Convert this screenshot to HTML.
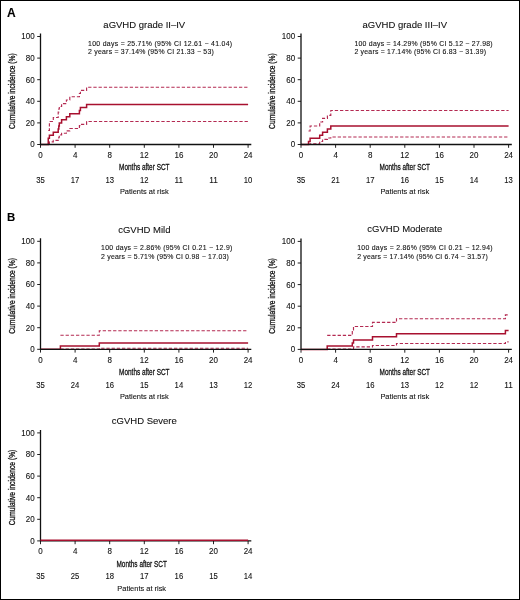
<!DOCTYPE html>
<html><head><meta charset="utf-8"><style>
html,body{margin:0;padding:0;background:#fff;}
body{width:520px;height:600px;overflow:hidden;position:relative;}
#fr{position:absolute;left:0;top:0;width:520px;height:600px;box-sizing:border-box;border:1px solid #000;}
svg{display:block;position:absolute;left:0;top:0;filter:blur(0.25px);}
text{font-family:"Liberation Sans",sans-serif;fill:#111;stroke:#111;stroke-width:0.1px;}
.hv{stroke-width:0.3px;}
.ax{fill:none;stroke:#111;stroke-width:1.3;}
.tk{stroke:#222;stroke-width:1;}
.sol{fill:none;stroke:#a8102f;stroke-width:1.5;}
.dsh{fill:none;stroke:#b42a52;stroke-width:1.15;stroke-dasharray:3.3 1.9;}
</style></head><body>
<svg width="520" height="600" viewBox="0 0 520 600">
<text x="7.1" y="16.7" font-size="12" font-weight="bold" fill="#000" style="fill:#000">A</text>
<text x="6.9" y="221.3" font-size="11.4" font-weight="bold" style="fill:#000">B</text>
<text transform="translate(14.9 91.1) rotate(-90)" class="hv" text-anchor="middle" font-size="9" textLength="75.6" lengthAdjust="spacingAndGlyphs">Cumulative incidence (%)</text>
<text x="144.3" y="28" text-anchor="middle" font-size="9.5">aGVHD grade II–IV</text>
<text x="88.1" y="45.7" font-size="6.9" textLength="144" lengthAdjust="spacing">100 days = 25.71% (95% CI 12.61 − 41.04)</text>
<text x="88.1" y="54.4" font-size="6.9" textLength="125.7" lengthAdjust="spacing">2 years = 37.14% (95% CI 21.33 − 53)</text>
<line x1="37.2" y1="144.5" x2="40.5" y2="144.5" class="tk"/>
<text x="34.6" y="147.45" text-anchor="end" font-size="8.6" textLength="4.45" lengthAdjust="spacingAndGlyphs">0</text>
<line x1="37.2" y1="122.9" x2="40.5" y2="122.9" class="tk"/>
<text x="34.6" y="125.85" text-anchor="end" font-size="8.6" textLength="8.9" lengthAdjust="spacingAndGlyphs">20</text>
<line x1="37.2" y1="101.3" x2="40.5" y2="101.3" class="tk"/>
<text x="34.6" y="104.25" text-anchor="end" font-size="8.6" textLength="8.9" lengthAdjust="spacingAndGlyphs">40</text>
<line x1="37.2" y1="79.7" x2="40.5" y2="79.7" class="tk"/>
<text x="34.6" y="82.65" text-anchor="end" font-size="8.6" textLength="8.9" lengthAdjust="spacingAndGlyphs">60</text>
<line x1="37.2" y1="58.1" x2="40.5" y2="58.1" class="tk"/>
<text x="34.6" y="61.05" text-anchor="end" font-size="8.6" textLength="8.9" lengthAdjust="spacingAndGlyphs">80</text>
<line x1="37.2" y1="36.5" x2="40.5" y2="36.5" class="tk"/>
<text x="34.6" y="39.45" text-anchor="end" font-size="8.6" textLength="13.34" lengthAdjust="spacingAndGlyphs">100</text>
<line x1="40.5" y1="144.5" x2="40.5" y2="147.8" class="tk"/>
<text x="40.5" y="157.7" text-anchor="middle" font-size="8.6" textLength="4.45" lengthAdjust="spacingAndGlyphs">0</text>
<text x="40.5" y="183" text-anchor="middle" font-size="8.4" textLength="8.56" lengthAdjust="spacingAndGlyphs">35</text>
<line x1="75.1" y1="144.5" x2="75.1" y2="147.8" class="tk"/>
<text x="75.1" y="157.7" text-anchor="middle" font-size="8.6" textLength="4.45" lengthAdjust="spacingAndGlyphs">4</text>
<text x="75.1" y="183" text-anchor="middle" font-size="8.4" textLength="8.56" lengthAdjust="spacingAndGlyphs">17</text>
<line x1="109.7" y1="144.5" x2="109.7" y2="147.8" class="tk"/>
<text x="109.7" y="157.7" text-anchor="middle" font-size="8.6" textLength="4.45" lengthAdjust="spacingAndGlyphs">8</text>
<text x="109.7" y="183" text-anchor="middle" font-size="8.4" textLength="8.56" lengthAdjust="spacingAndGlyphs">13</text>
<line x1="144.3" y1="144.5" x2="144.3" y2="147.8" class="tk"/>
<text x="144.3" y="157.7" text-anchor="middle" font-size="8.6" textLength="8.9" lengthAdjust="spacingAndGlyphs">12</text>
<text x="144.3" y="183" text-anchor="middle" font-size="8.4" textLength="8.56" lengthAdjust="spacingAndGlyphs">12</text>
<line x1="178.9" y1="144.5" x2="178.9" y2="147.8" class="tk"/>
<text x="178.9" y="157.7" text-anchor="middle" font-size="8.6" textLength="8.9" lengthAdjust="spacingAndGlyphs">16</text>
<text x="178.9" y="183" text-anchor="middle" font-size="8.4" textLength="8.56" lengthAdjust="spacingAndGlyphs">11</text>
<line x1="213.5" y1="144.5" x2="213.5" y2="147.8" class="tk"/>
<text x="213.5" y="157.7" text-anchor="middle" font-size="8.6" textLength="8.9" lengthAdjust="spacingAndGlyphs">20</text>
<text x="213.5" y="183" text-anchor="middle" font-size="8.4" textLength="8.56" lengthAdjust="spacingAndGlyphs">11</text>
<line x1="248.1" y1="144.5" x2="248.1" y2="147.8" class="tk"/>
<text x="248.1" y="157.7" text-anchor="middle" font-size="8.6" textLength="8.9" lengthAdjust="spacingAndGlyphs">24</text>
<text x="248.1" y="183" text-anchor="middle" font-size="8.4" textLength="8.56" lengthAdjust="spacingAndGlyphs">10</text>
<text x="144.3" y="170.3" class="hv" text-anchor="middle" font-size="9.7" textLength="50.4" lengthAdjust="spacingAndGlyphs">Months after SCT</text>
<text x="144.3" y="194.3" text-anchor="middle" font-size="7.9" textLength="48.8" lengthAdjust="spacingAndGlyphs">Patients at risk</text>
<path d="M48.25 130.5H48.25V130.5H49.4V121.5H53.3V117.5H58.2V112H58.8V109H59.3V106.5H61.6V103.6H66.4V100H69.8V96.7H79.4V93.5H80.4V90.4H86.6V87.2H248.1" class="dsh"/>
<path d="M48.25 143.6H48.25V143.6H49.4V141.8H53.3V140.4H58.2V138.6H58.8V137.2H59.3V134.8H61.6V133.2H66.4V130.8H69.8V128.5H79.4V125.6H80.4V124.3H86.6V121.5H248.1" class="dsh"/>
<path d="M40.5 144.5H48.25V138.33H49.4V135.24H53.3V132.16H58.2V129.07H58.8V125.99H59.3V122.9H61.6V119.81H66.4V116.73H69.8V113.64H79.4V110.56H80.4V107.47H86.6V104.39H248.1" class="sol"/>
<path d="M40.5 33.5 V144.5 H251.3" class="ax"/>
<text transform="translate(275.4 91.1) rotate(-90)" class="hv" text-anchor="middle" font-size="9" textLength="75.6" lengthAdjust="spacingAndGlyphs">Cumulative incidence (%)</text>
<text x="404.8" y="28" text-anchor="middle" font-size="9.5">aGVHD grade III–IV</text>
<text x="354.4" y="45.7" font-size="6.9" textLength="138.2" lengthAdjust="spacing">100 days = 14.29% (95% CI 5.12 − 27.98)</text>
<text x="354.4" y="54.4" font-size="6.9" textLength="131.6" lengthAdjust="spacing">2 years = 17.14% (95% CI 6.83 − 31.39)</text>
<line x1="297.7" y1="144.5" x2="301" y2="144.5" class="tk"/>
<text x="295.1" y="147.45" text-anchor="end" font-size="8.6" textLength="4.45" lengthAdjust="spacingAndGlyphs">0</text>
<line x1="297.7" y1="122.9" x2="301" y2="122.9" class="tk"/>
<text x="295.1" y="125.85" text-anchor="end" font-size="8.6" textLength="8.9" lengthAdjust="spacingAndGlyphs">20</text>
<line x1="297.7" y1="101.3" x2="301" y2="101.3" class="tk"/>
<text x="295.1" y="104.25" text-anchor="end" font-size="8.6" textLength="8.9" lengthAdjust="spacingAndGlyphs">40</text>
<line x1="297.7" y1="79.7" x2="301" y2="79.7" class="tk"/>
<text x="295.1" y="82.65" text-anchor="end" font-size="8.6" textLength="8.9" lengthAdjust="spacingAndGlyphs">60</text>
<line x1="297.7" y1="58.1" x2="301" y2="58.1" class="tk"/>
<text x="295.1" y="61.05" text-anchor="end" font-size="8.6" textLength="8.9" lengthAdjust="spacingAndGlyphs">80</text>
<line x1="297.7" y1="36.5" x2="301" y2="36.5" class="tk"/>
<text x="295.1" y="39.45" text-anchor="end" font-size="8.6" textLength="13.34" lengthAdjust="spacingAndGlyphs">100</text>
<line x1="301" y1="144.5" x2="301" y2="147.8" class="tk"/>
<text x="301" y="157.7" text-anchor="middle" font-size="8.6" textLength="4.45" lengthAdjust="spacingAndGlyphs">0</text>
<text x="301" y="183" text-anchor="middle" font-size="8.4" textLength="8.56" lengthAdjust="spacingAndGlyphs">35</text>
<line x1="335.6" y1="144.5" x2="335.6" y2="147.8" class="tk"/>
<text x="335.6" y="157.7" text-anchor="middle" font-size="8.6" textLength="4.45" lengthAdjust="spacingAndGlyphs">4</text>
<text x="335.6" y="183" text-anchor="middle" font-size="8.4" textLength="8.56" lengthAdjust="spacingAndGlyphs">21</text>
<line x1="370.2" y1="144.5" x2="370.2" y2="147.8" class="tk"/>
<text x="370.2" y="157.7" text-anchor="middle" font-size="8.6" textLength="4.45" lengthAdjust="spacingAndGlyphs">8</text>
<text x="370.2" y="183" text-anchor="middle" font-size="8.4" textLength="8.56" lengthAdjust="spacingAndGlyphs">17</text>
<line x1="404.8" y1="144.5" x2="404.8" y2="147.8" class="tk"/>
<text x="404.8" y="157.7" text-anchor="middle" font-size="8.6" textLength="8.9" lengthAdjust="spacingAndGlyphs">12</text>
<text x="404.8" y="183" text-anchor="middle" font-size="8.4" textLength="8.56" lengthAdjust="spacingAndGlyphs">16</text>
<line x1="439.4" y1="144.5" x2="439.4" y2="147.8" class="tk"/>
<text x="439.4" y="157.7" text-anchor="middle" font-size="8.6" textLength="8.9" lengthAdjust="spacingAndGlyphs">16</text>
<text x="439.4" y="183" text-anchor="middle" font-size="8.4" textLength="8.56" lengthAdjust="spacingAndGlyphs">15</text>
<line x1="474" y1="144.5" x2="474" y2="147.8" class="tk"/>
<text x="474" y="157.7" text-anchor="middle" font-size="8.6" textLength="8.9" lengthAdjust="spacingAndGlyphs">20</text>
<text x="474" y="183" text-anchor="middle" font-size="8.4" textLength="8.56" lengthAdjust="spacingAndGlyphs">14</text>
<line x1="508.6" y1="144.5" x2="508.6" y2="147.8" class="tk"/>
<text x="508.6" y="157.7" text-anchor="middle" font-size="8.6" textLength="8.9" lengthAdjust="spacingAndGlyphs">24</text>
<text x="508.6" y="183" text-anchor="middle" font-size="8.4" textLength="8.56" lengthAdjust="spacingAndGlyphs">13</text>
<text x="404.8" y="170.3" class="hv" text-anchor="middle" font-size="9.7" textLength="50.4" lengthAdjust="spacingAndGlyphs">Months after SCT</text>
<text x="404.8" y="194.3" text-anchor="middle" font-size="7.9" textLength="48.8" lengthAdjust="spacingAndGlyphs">Patients at risk</text>
<path d="M308.5 131H308.5V131H310.1V126H319.7V122H322.6V118.3H327.4V115.4H330.8V110.5H508.6" class="dsh"/>
<path d="M308.5 144.2H308.5V144.2H310.1V143.7H319.7V141.5H322.6V139.3H327.4V138H330.8V137H508.6" class="dsh"/>
<path d="M301 144.5H308.5V141.41H310.1V138.33H319.7V135.24H322.6V132.16H327.4V129.07H330.8V125.99H508.6" class="sol"/>
<path d="M301 33.5 V144.5 H511.8" class="ax"/>
<text transform="translate(14.9 295.9) rotate(-90)" class="hv" text-anchor="middle" font-size="9" textLength="75.6" lengthAdjust="spacingAndGlyphs">Cumulative incidence (%)</text>
<text x="144.3" y="232.5" text-anchor="middle" font-size="9.5">cGVHD Mild</text>
<text x="101.1" y="250.3" font-size="6.9" textLength="131.2" lengthAdjust="spacing">100 days = 2.86% (95% CI 0.21 − 12.9)</text>
<text x="101.1" y="258.8" font-size="6.9" textLength="127.7" lengthAdjust="spacing">2 years = 5.71% (95% CI 0.98 − 17.03)</text>
<line x1="37.2" y1="349.3" x2="40.5" y2="349.3" class="tk"/>
<text x="34.6" y="352.25" text-anchor="end" font-size="8.6" textLength="4.45" lengthAdjust="spacingAndGlyphs">0</text>
<line x1="37.2" y1="327.7" x2="40.5" y2="327.7" class="tk"/>
<text x="34.6" y="330.65" text-anchor="end" font-size="8.6" textLength="8.9" lengthAdjust="spacingAndGlyphs">20</text>
<line x1="37.2" y1="306.1" x2="40.5" y2="306.1" class="tk"/>
<text x="34.6" y="309.05" text-anchor="end" font-size="8.6" textLength="8.9" lengthAdjust="spacingAndGlyphs">40</text>
<line x1="37.2" y1="284.5" x2="40.5" y2="284.5" class="tk"/>
<text x="34.6" y="287.45" text-anchor="end" font-size="8.6" textLength="8.9" lengthAdjust="spacingAndGlyphs">60</text>
<line x1="37.2" y1="262.9" x2="40.5" y2="262.9" class="tk"/>
<text x="34.6" y="265.85" text-anchor="end" font-size="8.6" textLength="8.9" lengthAdjust="spacingAndGlyphs">80</text>
<line x1="37.2" y1="241.3" x2="40.5" y2="241.3" class="tk"/>
<text x="34.6" y="244.25" text-anchor="end" font-size="8.6" textLength="13.34" lengthAdjust="spacingAndGlyphs">100</text>
<line x1="40.5" y1="349.3" x2="40.5" y2="352.6" class="tk"/>
<text x="40.5" y="362.5" text-anchor="middle" font-size="8.6" textLength="4.45" lengthAdjust="spacingAndGlyphs">0</text>
<text x="40.5" y="387.8" text-anchor="middle" font-size="8.4" textLength="8.56" lengthAdjust="spacingAndGlyphs">35</text>
<line x1="75.1" y1="349.3" x2="75.1" y2="352.6" class="tk"/>
<text x="75.1" y="362.5" text-anchor="middle" font-size="8.6" textLength="4.45" lengthAdjust="spacingAndGlyphs">4</text>
<text x="75.1" y="387.8" text-anchor="middle" font-size="8.4" textLength="8.56" lengthAdjust="spacingAndGlyphs">24</text>
<line x1="109.7" y1="349.3" x2="109.7" y2="352.6" class="tk"/>
<text x="109.7" y="362.5" text-anchor="middle" font-size="8.6" textLength="4.45" lengthAdjust="spacingAndGlyphs">8</text>
<text x="109.7" y="387.8" text-anchor="middle" font-size="8.4" textLength="8.56" lengthAdjust="spacingAndGlyphs">16</text>
<line x1="144.3" y1="349.3" x2="144.3" y2="352.6" class="tk"/>
<text x="144.3" y="362.5" text-anchor="middle" font-size="8.6" textLength="8.9" lengthAdjust="spacingAndGlyphs">12</text>
<text x="144.3" y="387.8" text-anchor="middle" font-size="8.4" textLength="8.56" lengthAdjust="spacingAndGlyphs">15</text>
<line x1="178.9" y1="349.3" x2="178.9" y2="352.6" class="tk"/>
<text x="178.9" y="362.5" text-anchor="middle" font-size="8.6" textLength="8.9" lengthAdjust="spacingAndGlyphs">16</text>
<text x="178.9" y="387.8" text-anchor="middle" font-size="8.4" textLength="8.56" lengthAdjust="spacingAndGlyphs">14</text>
<line x1="213.5" y1="349.3" x2="213.5" y2="352.6" class="tk"/>
<text x="213.5" y="362.5" text-anchor="middle" font-size="8.6" textLength="8.9" lengthAdjust="spacingAndGlyphs">20</text>
<text x="213.5" y="387.8" text-anchor="middle" font-size="8.4" textLength="8.56" lengthAdjust="spacingAndGlyphs">13</text>
<line x1="248.1" y1="349.3" x2="248.1" y2="352.6" class="tk"/>
<text x="248.1" y="362.5" text-anchor="middle" font-size="8.6" textLength="8.9" lengthAdjust="spacingAndGlyphs">24</text>
<text x="248.1" y="387.8" text-anchor="middle" font-size="8.4" textLength="8.56" lengthAdjust="spacingAndGlyphs">12</text>
<text x="144.3" y="375.1" class="hv" text-anchor="middle" font-size="9.7" textLength="50.4" lengthAdjust="spacingAndGlyphs">Months after SCT</text>
<text x="144.3" y="399.1" text-anchor="middle" font-size="7.9" textLength="48.8" lengthAdjust="spacingAndGlyphs">Patients at risk</text>
<path d="M60.4 335.2H60.4V335.2H99.3V330.7H248.1" class="dsh"/>
<path d="M60.4 349H60.4V349H99.3V348.2H248.1" class="dsh"/>
<path d="M40.5 349.3H60.4V346.1H99.3V343H248.1" class="sol"/>
<path d="M40.5 238.3 V349.3 H251.3" class="ax"/>
<text transform="translate(275.4 296) rotate(-90)" class="hv" text-anchor="middle" font-size="9" textLength="75.6" lengthAdjust="spacingAndGlyphs">Cumulative incidence (%)</text>
<text x="404.8" y="232.4" text-anchor="middle" font-size="9.5">cGVHD Moderate</text>
<text x="357.2" y="250.3" font-size="6.9" textLength="135.4" lengthAdjust="spacing">100 days = 2.86% (95% CI 0.21 − 12.94)</text>
<text x="357.2" y="258.8" font-size="6.9" textLength="130.5" lengthAdjust="spacing">2 years = 17.14% (95% CI 6.74 − 31.57)</text>
<line x1="297.7" y1="349.4" x2="301" y2="349.4" class="tk"/>
<text x="295.1" y="352.35" text-anchor="end" font-size="8.6" textLength="4.45" lengthAdjust="spacingAndGlyphs">0</text>
<line x1="297.7" y1="327.8" x2="301" y2="327.8" class="tk"/>
<text x="295.1" y="330.75" text-anchor="end" font-size="8.6" textLength="8.9" lengthAdjust="spacingAndGlyphs">20</text>
<line x1="297.7" y1="306.2" x2="301" y2="306.2" class="tk"/>
<text x="295.1" y="309.15" text-anchor="end" font-size="8.6" textLength="8.9" lengthAdjust="spacingAndGlyphs">40</text>
<line x1="297.7" y1="284.6" x2="301" y2="284.6" class="tk"/>
<text x="295.1" y="287.55" text-anchor="end" font-size="8.6" textLength="8.9" lengthAdjust="spacingAndGlyphs">60</text>
<line x1="297.7" y1="263" x2="301" y2="263" class="tk"/>
<text x="295.1" y="265.95" text-anchor="end" font-size="8.6" textLength="8.9" lengthAdjust="spacingAndGlyphs">80</text>
<line x1="297.7" y1="241.4" x2="301" y2="241.4" class="tk"/>
<text x="295.1" y="244.35" text-anchor="end" font-size="8.6" textLength="13.34" lengthAdjust="spacingAndGlyphs">100</text>
<line x1="301" y1="349.4" x2="301" y2="352.7" class="tk"/>
<text x="301" y="362.6" text-anchor="middle" font-size="8.6" textLength="4.45" lengthAdjust="spacingAndGlyphs">0</text>
<text x="301" y="387.9" text-anchor="middle" font-size="8.4" textLength="8.56" lengthAdjust="spacingAndGlyphs">35</text>
<line x1="335.6" y1="349.4" x2="335.6" y2="352.7" class="tk"/>
<text x="335.6" y="362.6" text-anchor="middle" font-size="8.6" textLength="4.45" lengthAdjust="spacingAndGlyphs">4</text>
<text x="335.6" y="387.9" text-anchor="middle" font-size="8.4" textLength="8.56" lengthAdjust="spacingAndGlyphs">24</text>
<line x1="370.2" y1="349.4" x2="370.2" y2="352.7" class="tk"/>
<text x="370.2" y="362.6" text-anchor="middle" font-size="8.6" textLength="4.45" lengthAdjust="spacingAndGlyphs">8</text>
<text x="370.2" y="387.9" text-anchor="middle" font-size="8.4" textLength="8.56" lengthAdjust="spacingAndGlyphs">16</text>
<line x1="404.8" y1="349.4" x2="404.8" y2="352.7" class="tk"/>
<text x="404.8" y="362.6" text-anchor="middle" font-size="8.6" textLength="8.9" lengthAdjust="spacingAndGlyphs">12</text>
<text x="404.8" y="387.9" text-anchor="middle" font-size="8.4" textLength="8.56" lengthAdjust="spacingAndGlyphs">13</text>
<line x1="439.4" y1="349.4" x2="439.4" y2="352.7" class="tk"/>
<text x="439.4" y="362.6" text-anchor="middle" font-size="8.6" textLength="8.9" lengthAdjust="spacingAndGlyphs">16</text>
<text x="439.4" y="387.9" text-anchor="middle" font-size="8.4" textLength="8.56" lengthAdjust="spacingAndGlyphs">12</text>
<line x1="474" y1="349.4" x2="474" y2="352.7" class="tk"/>
<text x="474" y="362.6" text-anchor="middle" font-size="8.6" textLength="8.9" lengthAdjust="spacingAndGlyphs">20</text>
<text x="474" y="387.9" text-anchor="middle" font-size="8.4" textLength="8.56" lengthAdjust="spacingAndGlyphs">12</text>
<line x1="508.6" y1="349.4" x2="508.6" y2="352.7" class="tk"/>
<text x="508.6" y="362.6" text-anchor="middle" font-size="8.6" textLength="8.9" lengthAdjust="spacingAndGlyphs">24</text>
<text x="508.6" y="387.9" text-anchor="middle" font-size="8.4" textLength="8.56" lengthAdjust="spacingAndGlyphs">11</text>
<text x="404.8" y="375.2" class="hv" text-anchor="middle" font-size="9.7" textLength="50.4" lengthAdjust="spacingAndGlyphs">Months after SCT</text>
<text x="404.8" y="399.2" text-anchor="middle" font-size="7.9" textLength="48.8" lengthAdjust="spacingAndGlyphs">Patients at risk</text>
<path d="M327.2 335.3H327.2V335.3H352.3V330H353.5V326.5H372.5V322.4H396.5V318.7H505.4V314.9H508.6" class="dsh"/>
<path d="M327.2 349H327.2V349H353.5V346.9H372.5V345.5H396.5V343.5H505.4V341.9H508.6" class="dsh"/>
<path d="M301 349.4H327.2V346.1H352.3V343H353.5V339.9H372.5V336.8H396.5V333.7H505.4V330.6H508.6" class="sol"/>
<path d="M301 238.4 V349.4 H511.8" class="ax"/>
<text transform="translate(14.9 487.5) rotate(-90)" class="hv" text-anchor="middle" font-size="9" textLength="75.6" lengthAdjust="spacingAndGlyphs">Cumulative incidence (%)</text>
<text x="144.3" y="424.4" text-anchor="middle" font-size="9.5">cGVHD Severe</text>
<line x1="37.2" y1="540.9" x2="40.5" y2="540.9" class="tk"/>
<text x="34.6" y="543.85" text-anchor="end" font-size="8.6" textLength="4.45" lengthAdjust="spacingAndGlyphs">0</text>
<line x1="37.2" y1="519.3" x2="40.5" y2="519.3" class="tk"/>
<text x="34.6" y="522.25" text-anchor="end" font-size="8.6" textLength="8.9" lengthAdjust="spacingAndGlyphs">20</text>
<line x1="37.2" y1="497.7" x2="40.5" y2="497.7" class="tk"/>
<text x="34.6" y="500.65" text-anchor="end" font-size="8.6" textLength="8.9" lengthAdjust="spacingAndGlyphs">40</text>
<line x1="37.2" y1="476.1" x2="40.5" y2="476.1" class="tk"/>
<text x="34.6" y="479.05" text-anchor="end" font-size="8.6" textLength="8.9" lengthAdjust="spacingAndGlyphs">60</text>
<line x1="37.2" y1="454.5" x2="40.5" y2="454.5" class="tk"/>
<text x="34.6" y="457.45" text-anchor="end" font-size="8.6" textLength="8.9" lengthAdjust="spacingAndGlyphs">80</text>
<line x1="37.2" y1="432.9" x2="40.5" y2="432.9" class="tk"/>
<text x="34.6" y="435.85" text-anchor="end" font-size="8.6" textLength="13.34" lengthAdjust="spacingAndGlyphs">100</text>
<line x1="40.5" y1="540.9" x2="40.5" y2="544.2" class="tk"/>
<text x="40.5" y="554.1" text-anchor="middle" font-size="8.6" textLength="4.45" lengthAdjust="spacingAndGlyphs">0</text>
<text x="40.5" y="579.4" text-anchor="middle" font-size="8.4" textLength="8.56" lengthAdjust="spacingAndGlyphs">35</text>
<line x1="75.1" y1="540.9" x2="75.1" y2="544.2" class="tk"/>
<text x="75.1" y="554.1" text-anchor="middle" font-size="8.6" textLength="4.45" lengthAdjust="spacingAndGlyphs">4</text>
<text x="75.1" y="579.4" text-anchor="middle" font-size="8.4" textLength="8.56" lengthAdjust="spacingAndGlyphs">25</text>
<line x1="109.7" y1="540.9" x2="109.7" y2="544.2" class="tk"/>
<text x="109.7" y="554.1" text-anchor="middle" font-size="8.6" textLength="4.45" lengthAdjust="spacingAndGlyphs">8</text>
<text x="109.7" y="579.4" text-anchor="middle" font-size="8.4" textLength="8.56" lengthAdjust="spacingAndGlyphs">18</text>
<line x1="144.3" y1="540.9" x2="144.3" y2="544.2" class="tk"/>
<text x="144.3" y="554.1" text-anchor="middle" font-size="8.6" textLength="8.9" lengthAdjust="spacingAndGlyphs">12</text>
<text x="144.3" y="579.4" text-anchor="middle" font-size="8.4" textLength="8.56" lengthAdjust="spacingAndGlyphs">17</text>
<line x1="178.9" y1="540.9" x2="178.9" y2="544.2" class="tk"/>
<text x="178.9" y="554.1" text-anchor="middle" font-size="8.6" textLength="8.9" lengthAdjust="spacingAndGlyphs">16</text>
<text x="178.9" y="579.4" text-anchor="middle" font-size="8.4" textLength="8.56" lengthAdjust="spacingAndGlyphs">16</text>
<line x1="213.5" y1="540.9" x2="213.5" y2="544.2" class="tk"/>
<text x="213.5" y="554.1" text-anchor="middle" font-size="8.6" textLength="8.9" lengthAdjust="spacingAndGlyphs">20</text>
<text x="213.5" y="579.4" text-anchor="middle" font-size="8.4" textLength="8.56" lengthAdjust="spacingAndGlyphs">15</text>
<line x1="248.1" y1="540.9" x2="248.1" y2="544.2" class="tk"/>
<text x="248.1" y="554.1" text-anchor="middle" font-size="8.6" textLength="8.9" lengthAdjust="spacingAndGlyphs">24</text>
<text x="248.1" y="579.4" text-anchor="middle" font-size="8.4" textLength="8.56" lengthAdjust="spacingAndGlyphs">14</text>
<text x="141.7" y="566.7" class="hv" text-anchor="middle" font-size="9.7" textLength="50.4" lengthAdjust="spacingAndGlyphs">Months after SCT</text>
<text x="141.7" y="590.7" text-anchor="middle" font-size="7.9" textLength="48.8" lengthAdjust="spacingAndGlyphs">Patients at risk</text>
<path d="M40.5 429.9 V540.9 H251.3" class="ax"/>
<path d="M40.5 540.15H248.1" class="sol"/>
</svg>
<div id="fr"></div>
</body></html>
